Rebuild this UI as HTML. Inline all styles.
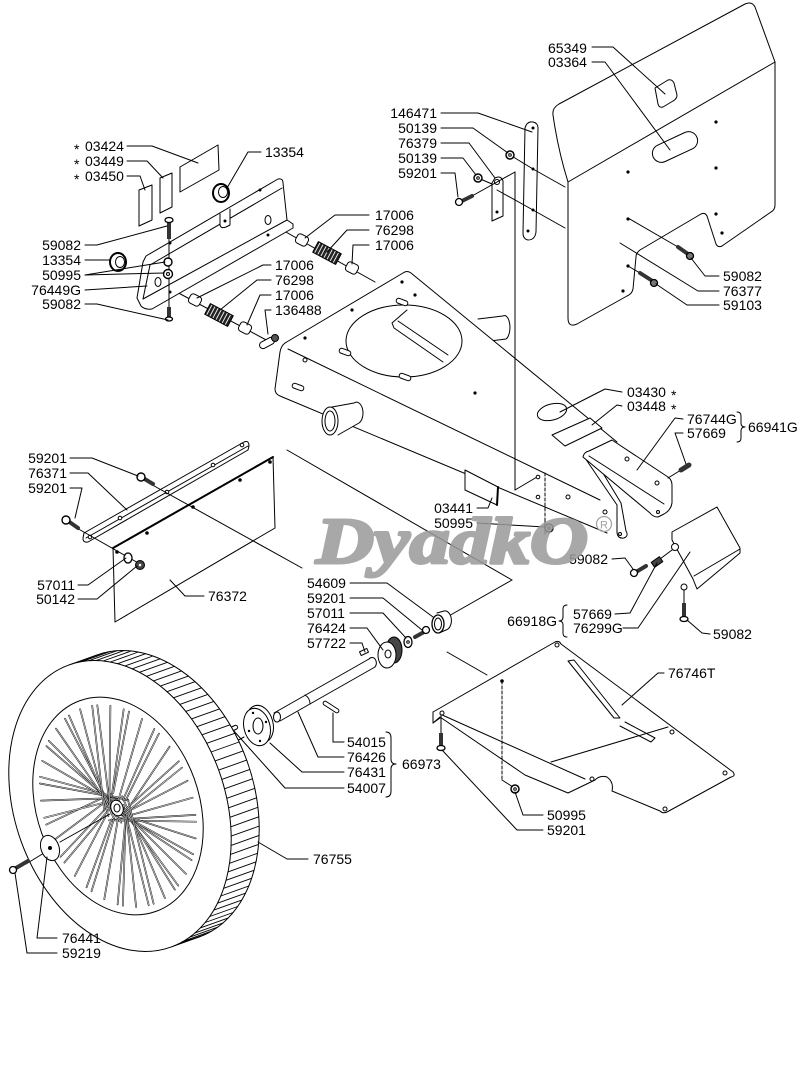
<!DOCTYPE html>
<html><head><meta charset="utf-8"><title>Parts diagram</title>
<style>
html,body{margin:0;padding:0;background:#fff;}
svg{display:block}
text.l{font-family:"Liberation Sans",Arial,sans-serif;font-size:14px;fill:#000;stroke:none}
</style></head><body>
<svg id="d" xmlns="http://www.w3.org/2000/svg" width="800" height="1070" viewBox="0 0 800 1070">
<defs>
<pattern id="coil" width="3.5" height="14" patternUnits="userSpaceOnUse"><rect width="3.5" height="14" fill="#fff"/><rect width="2.6" height="14" fill="#222"/></pattern>
</defs>
<rect width="800" height="1070" fill="#fff"/>
<g fill="none" stroke="#000" stroke-width="1" stroke-linejoin="round" stroke-linecap="round">

<!-- ===== TOP RIGHT PANEL 76377 ===== -->
<path d="M568,182 Q558,150 553,115 Q552,108 559,104 L745,4 Q752,1 755,7 L775,62 L775,205 Q775,210 771,212 L722,246 Q718,248 716,244 L707,216 Q705,212 701,214 L640,250 Q636,253 636,257 L633,289 Q632,294 627,296 L577,324 Q568,328 568,318 Z" fill="#fff"/>
<line x1="568" y1="182" x2="775" y2="62"/>
<g fill="#000" stroke="none">
<circle cx="716" cy="122" r="1.6"/><circle cx="716" cy="168" r="1.6"/><circle cx="628" cy="172" r="1.6"/><circle cx="628" cy="219" r="1.6"/><circle cx="716" cy="214" r="1.6"/><circle cx="722" cy="233" r="1.6"/><circle cx="628" cy="266" r="1.6"/><circle cx="623" cy="291" r="1.6"/>
</g>
<path d="M655,88 L668,80 Q672,79 674,83 L677,95 Q677,99 673,101 L663,107 Q659,108 658,104 Z" fill="#fff"/>
<rect x="-24" y="-9" width="48" height="18" rx="9" transform="translate(675,147) rotate(-25)" fill="#fff"/>
<line x1="628" y1="218" x2="678" y2="247"/>
<line x1="678" y1="247" x2="688" y2="254" stroke-width="4" stroke="#333"/>
<circle cx="690" cy="256" r="3.5" fill="#777" stroke-width="1.3"/>
<line x1="628" y1="266" x2="640" y2="273"/>
<line x1="640" y1="273" x2="651" y2="280" stroke-width="4" stroke="#333"/>
<circle cx="654" cy="283" r="3.5" fill="#777" stroke-width="1.3"/>

<!-- strip 146471 -->
<path d="M525,128 Q527,121 533,122 Q538,123 538,128 L536,232 Q535,240 528,240 Q523,239 523,233 Z" fill="#fff"/>
<g fill="#000" stroke="none"><circle cx="533" cy="128" r="1.5"/><circle cx="533" cy="169" r="1.5"/><circle cx="533" cy="210" r="1.5"/><circle cx="528" cy="231" r="1.5"/></g>
<line x1="533" y1="169" x2="565" y2="187"/>
<line x1="533" y1="210" x2="565" y2="228"/>
<line x1="510" y1="155" x2="533" y2="169"/>
<path d="M492,183 L492,221 L503,216 L503,181 Q501,175 495,178 Z" fill="#fff"/>
<circle cx="497" cy="182" r="2.5" fill="#fff"/>
<circle cx="497" cy="212" r="1.5" fill="#000" stroke="none"/>
<line x1="497" y1="190" x2="533" y2="210"/>
<line x1="478" y1="178" x2="492" y2="184"/>
<circle cx="510" cy="155" r="4" fill="#fff" stroke-width="1.5"/><circle cx="510" cy="155" r="1.3"/>
<circle cx="478" cy="178" r="4" fill="#fff" stroke-width="1.5"/><circle cx="478" cy="178" r="1.3"/>
<line x1="472" y1="196" x2="515" y2="172"/>
<line x1="462" y1="201" x2="472" y2="196" stroke-width="4" stroke="#333"/>
<circle cx="459" cy="202" r="3.5" fill="#fff" stroke-width="1.3"/>

<!-- ===== TOP LEFT GROUP ===== -->
<polygon points="180,167 218,145 219,170 180,192" fill="#fff"/>
<polygon points="160,178 172,173 172,207 160,213" fill="#fff"/>
<polygon points="139,190 152,185 152,220 139,226" fill="#fff"/>
<ellipse cx="221" cy="193" rx="8" ry="9" fill="#fff" stroke-width="2"/>
<ellipse cx="223" cy="192" rx="4.5" ry="5.5"/>
<line x1="268" y1="222" x2="375" y2="282"/>
<line x1="158" y1="282" x2="270" y2="342"/>
<path d="M143,262 L146,256 L278,179 Q283,178 283,183 L287,220 L293,224 L293,228 L152,309 Q145,310 141,306 L137,298 Z" fill="#fff"/>
<line x1="150" y1="265" x2="282" y2="188"/>
<line x1="143" y1="299" x2="287" y2="220"/>
<line x1="150" y1="265" x2="143" y2="299"/>
<path d="M220,214 L220,225 Q221,229 226,227 L230,225 L230,209" fill="#fff"/>
<g fill="#000" stroke="none"><circle cx="225" cy="221" r="1.5"/><circle cx="260" cy="190" r="1.5"/><circle cx="268" cy="235" r="1.5"/><circle cx="170" cy="243" r="1.5"/><circle cx="170" cy="292" r="1.5"/></g>
<ellipse cx="158" cy="282" rx="3" ry="4.5"/>
<ellipse cx="268" cy="220" rx="3" ry="4.5"/>
<line x1="169" y1="238" x2="169" y2="308"/>
<rect x="167" y="221" width="4" height="18" fill="#333" stroke="none"/>
<ellipse cx="169" cy="220" rx="4" ry="2.5" fill="#fff" stroke-width="1.3"/>
<circle cx="168" cy="262" r="4" fill="#fff" stroke-width="1.4"/>
<circle cx="168" cy="274" r="4.5" fill="#fff" stroke-width="1.4"/><circle cx="168" cy="274" r="1.5"/>
<rect x="167" y="307" width="4" height="11" fill="#333" stroke="none"/>
<ellipse cx="169" cy="319" rx="3.5" ry="2" fill="#fff" stroke-width="1.3"/>
<ellipse cx="118" cy="262" rx="8" ry="9" fill="#fff" stroke-width="2"/>
<ellipse cx="120" cy="262" rx="4.5" ry="5.5"/>
<rect x="-6" y="-5" width="12" height="10" rx="3" transform="translate(302,240) rotate(28)" fill="#fff"/>
<rect x="-13" y="-6" width="26" height="12" transform="translate(327,253) rotate(28)" fill="url(#coil)"/>
<rect x="-6" y="-5" width="12" height="10" rx="3" transform="translate(352,268) rotate(28)" fill="#fff"/>
<rect x="-6" y="-5" width="12" height="10" rx="3" transform="translate(195,300) rotate(28)" fill="#fff"/>
<rect x="-13" y="-6" width="26" height="12" transform="translate(219,315) rotate(28)" fill="url(#coil)"/>
<rect x="-6" y="-5" width="12" height="10" rx="3" transform="translate(245,328) rotate(28)" fill="#fff"/>
<rect x="-8" y="-3.5" width="16" height="7" rx="3.5" transform="translate(267,343) rotate(-28)" fill="#fff"/>
<circle cx="275" cy="338" r="3.5" fill="#555"/>

<!-- ===== FRAME ===== -->
<path d="M478,319 L503,316 A5,11 0 0 1 506,339 L490,341" fill="#fff"/>
<path d="M285,343 L403,273 Q407,270 411,273 L617,442 L600,500 L607,533 L280,396 Q275,394 275,389 L280,352 Q281,346 285,343 Z" fill="#fff" stroke="none"/>
<path d="M285,343 L403,273 Q407,270 411,273 L617,442"/>
<line x1="288" y1="349" x2="600" y2="500"/>
<path d="M285,343 Q281,346 280,352 L275,389 Q275,394 280,396 L607,533"/>
<path d="M585,458 L617,505 L617,533 Q618,539 624,538 Q629,536 626,531 L621,503 L592,455"/>
<circle cx="620" cy="534" r="1.5"/>
<ellipse cx="404" cy="341" rx="58" ry="36"/>
<path d="M407,310 L392,323 L394,328 L443,362"/>
<line x1="398" y1="321" x2="448" y2="355"/>
<g fill="#fff">
<rect x="-6" y="-2.5" width="12" height="5" rx="2.5" transform="translate(402,302) rotate(20)"/>
<rect x="-6" y="-2.5" width="12" height="5" rx="2.5" transform="translate(345,352) rotate(20)"/>
<rect x="-6" y="-2.5" width="12" height="5" rx="2.5" transform="translate(405,377) rotate(20)"/>
<rect x="-6" y="-2.5" width="12" height="5" rx="2.5" transform="translate(298,387) rotate(20)"/>
</g>
<g fill="#000" stroke="none"><circle cx="402" cy="282" r="1.6"/><circle cx="415" cy="295" r="1.6"/><circle cx="352" cy="310" r="1.6"/><circle cx="305" cy="338" r="1.6"/><circle cx="475" cy="393" r="1.6"/></g>
<circle cx="305" cy="360" r="2"/>
<path d="M332,407 L354,403 A6,10 0 0 1 359,423 L338,435" fill="#fff"/>
<ellipse cx="330" cy="421" rx="8" ry="14" fill="#fff"/>
<ellipse cx="330" cy="421" rx="5" ry="10"/>
<ellipse cx="552" cy="412" rx="15" ry="8" transform="rotate(-15 552 412)" fill="#fff"/>
<polygon points="552,435 590,418 602,428 565,446" fill="#fff"/>
<polygon points="465,470 498,487 497,505 465,490" fill="#fff"/>
<line x1="498" y1="487" x2="497" y2="505" stroke-width="2"/>
<path d="M583,457 Q584,452 589,451 L612,440 L668,477 Q672,480 672,485 L672,503 Q671,510 664,514 L658,517 Q653,517 650,513 Z" fill="#fff"/>
<line x1="589" y1="456" x2="664" y2="504"/>
<g fill="#fff"><circle cx="627" cy="459" r="2"/><circle cx="657" cy="483" r="2"/><circle cx="658" cy="512" r="1.5"/></g>
<line x1="668" y1="478" x2="681" y2="470"/>
<line x1="681" y1="470" x2="689" y2="465" stroke-width="5" stroke="#333"/>
<line x1="515" y1="172" x2="515" y2="490"/>
<line x1="515" y1="490" x2="537" y2="477"/>
<g fill="#fff"><circle cx="538" cy="477" r="1.8"/><circle cx="538" cy="497" r="1.8"/><circle cx="568" cy="497" r="2"/><circle cx="605" cy="512" r="2"/></g>
<line x1="545" y1="473" x2="545" y2="518" stroke-dasharray="3,2"/>
<line x1="545" y1="518" x2="545" y2="534"/>
<circle cx="549" cy="528" r="4" fill="#fff" stroke-width="1.5"/><circle cx="549" cy="528" r="1.3"/>

<!-- ===== LEFT LOWER GROUP ===== -->
<polygon points="113,548 273,457 275,528 115,622" fill="#fff"/>
<line x1="113" y1="548" x2="273" y2="457" stroke-width="2"/>
<g fill="#000" stroke="none"><circle cx="117" cy="552" r="1.8"/><circle cx="147" cy="533" r="1.8"/><circle cx="193" cy="507" r="1.8"/><circle cx="240" cy="480" r="1.8"/><circle cx="270" cy="462" r="1.8"/></g>
<path d="M84,533 L244,442 Q249,440 249,446 L248,450 L88,542 Q83,543 83,538 Z" fill="#fff"/>
<line x1="86" y1="538" x2="248" y2="446"/>
<g fill="#fff"><circle cx="90" cy="537" r="1.8"/><circle cx="120" cy="518" r="1.8"/><circle cx="167" cy="492" r="1.8"/><circle cx="213" cy="465" r="1.8"/><circle cx="242" cy="445" r="1.8"/></g>
<line x1="147" y1="482" x2="302" y2="568"/>
<line x1="75" y1="527" x2="140" y2="564"/>
<line x1="143" y1="478" x2="153" y2="484" stroke-width="4" stroke="#333"/>
<circle cx="141" cy="477" r="4" fill="#fff" stroke-width="1.4"/>
<line x1="68" y1="521" x2="78" y2="528" stroke-width="4" stroke="#333"/>
<circle cx="66" cy="520" r="4" fill="#fff" stroke-width="1.4"/>
<ellipse cx="128" cy="558" rx="4" ry="5" fill="#fff" stroke-width="1.3"/>
<circle cx="140" cy="565" r="4.5" fill="#444"/><circle cx="140" cy="565" r="1.3" fill="#fff" stroke="none"/>

<!-- ===== AXLE GROUP ===== -->
<line x1="287" y1="450" x2="512" y2="580"/>
<line x1="512" y1="580" x2="447" y2="617"/>
<line x1="447" y1="652" x2="487" y2="675"/>
<path d="M437,613 L444,611 A6,9 0 0 1 446,630 L439,633" fill="#fff"/>
<ellipse cx="438" cy="624" rx="6" ry="9" fill="#fff" stroke-width="1.3"/>
<ellipse cx="438" cy="624" rx="3.5" ry="6"/>
<line x1="415" y1="637" x2="424" y2="632" stroke-width="4" stroke="#333"/>
<circle cx="426" cy="630" r="3.5" fill="#fff" stroke-width="1.3"/>
<ellipse cx="408" cy="642" rx="4" ry="5.5" fill="#fff" stroke-width="1.3"/>
<circle cx="408" cy="642" r="1.3"/>
<ellipse cx="394" cy="650" rx="8" ry="13" fill="#444"/>
<ellipse cx="387" cy="655" rx="9" ry="13" fill="#fff"/>
<ellipse cx="388" cy="654" rx="3" ry="4"/>
<rect x="-4" y="-2" width="8" height="4" transform="translate(364,652) rotate(-25)" fill="#fff"/>
<path d="M274,713 L369,659 A4,5 0 0 1 375,667 L280,721" fill="#fff"/>
<ellipse cx="277" cy="717" rx="3.5" ry="5" fill="#fff"/>
<path d="M305,695 Q310,698 310,704"/>
<rect x="-9" y="-2" width="18" height="4" rx="2" transform="translate(331,707) rotate(33)" fill="#fff"/>
<ellipse cx="260" cy="724" rx="13" ry="19" transform="rotate(-15 260 724)" fill="#fff"/>
<ellipse cx="257" cy="727" rx="13" ry="19" transform="rotate(-15 257 727)" fill="#fff"/>
<ellipse cx="258" cy="726" rx="5" ry="8"/>
<g fill="#000" stroke="none"><circle cx="253" cy="713" r="1.2"/><circle cx="266" cy="722" r="1.2"/><circle cx="260" cy="741" r="1.2"/><circle cx="249" cy="731" r="1.2"/></g>
<line x1="222" y1="749" x2="244" y2="737"/>
<rect x="-6" y="-2" width="12" height="4" rx="2" transform="translate(232,729) rotate(-25)" fill="#fff"/>

<!-- ===== TRAY 76746T ===== -->
<path d="M433,712 L555,642 Q559,640 561,644 L733,772 Q736,776 731,777 L667,812 Q663,814 660,811 L612,791 Q614,782 607,777 Q600,775 595,780 L568,793 L525,775 L440,717 L433,723 Z" fill="#fff"/>
<line x1="440" y1="714" x2="585" y2="779"/>
<line x1="551" y1="762" x2="668" y2="727"/>
<path d="M568,661 L614,718 L620,718 L574,660 Z"/>
<path d="M620,726 L651,742 L655,738 L625,722"/>
<path d="M433,712 L433,723 L440,718"/>
<g fill="#fff"><circle cx="557" cy="645" r="2"/><circle cx="442" cy="713" r="2"/><circle cx="672" cy="732" r="2"/><circle cx="725" cy="773" r="2"/><circle cx="665" cy="809" r="2"/><circle cx="592" cy="779" r="2"/></g>
<circle cx="502" cy="681" r="1.3" fill="#000"/>
<line x1="502" y1="681" x2="502" y2="780" stroke-dasharray="3,2"/>
<line x1="502" y1="780" x2="513" y2="787"/>
<circle cx="515" cy="789" r="4" fill="#fff" stroke-width="1.5"/><circle cx="515" cy="789" r="1.3"/>
<line x1="441" y1="715" x2="441" y2="733"/>
<rect x="439" y="733" width="4" height="13" fill="#333" stroke="none"/>
<ellipse cx="441" cy="748" rx="4" ry="2.5" fill="#fff" stroke-width="1.3"/>

<!-- ===== COVER 76299G ===== -->
<path d="M672,532 L717,507 L740,548 L740,553 L697,589 L693,579 L672,540 Z" fill="#fff"/>
<line x1="694" y1="576" x2="740" y2="549"/>
<circle cx="675" cy="547" r="3.5" fill="#fff"/>
<circle cx="684" cy="587" r="3" fill="#fff"/>
<line x1="660" y1="559" x2="672" y2="550"/>
<rect x="-5" y="-3" width="10" height="6" transform="translate(657,562) rotate(-35)" fill="#444"/>
<line x1="636" y1="572" x2="646" y2="566" stroke-width="4" stroke="#333"/>
<circle cx="634" cy="573" r="3.5" fill="#fff" stroke-width="1.3"/>
<line x1="684" y1="590" x2="684" y2="603"/>
<rect x="682" y="603" width="4" height="14" fill="#333" stroke="none"/>
<ellipse cx="684" cy="619" rx="4" ry="2.5" fill="#fff" stroke-width="1.3"/>

<!-- ===== WHEEL ===== -->
<g id="wheel">
<ellipse cx="148" cy="796" rx="105" ry="150" transform="rotate(-20 148 796)" fill="#fff"/>
<g id="tread" stroke-width="0.9"></g>
<ellipse cx="120" cy="806" rx="105" ry="150" transform="rotate(-20 120 806)" fill="#fff"/>
<ellipse cx="118" cy="806" rx="81" ry="112" transform="rotate(-20 118 806)" fill="#fff"/>
<g id="spokes"></g>
<ellipse cx="117" cy="808" rx="6" ry="8" transform="rotate(-20 117 808)" fill="#fff"/>
<ellipse cx="117" cy="808" rx="3" ry="4"/>
</g>
<line x1="60" y1="842" x2="110" y2="814"/>
<line x1="26" y1="864" x2="44" y2="853"/>
<ellipse cx="50" cy="848" rx="9" ry="13" transform="rotate(-20 50 848)" fill="#fff"/>
<circle cx="50" cy="848" r="1.5" fill="#000"/>
<line x1="16" y1="868" x2="28" y2="861" stroke-width="4" stroke="#333"/>
<circle cx="13" cy="870" r="3.5" fill="#fff" stroke-width="1.3"/>

<!-- ===== LEADER LINES ===== -->
<polyline points="127,146 152,146 198,163"/>
<polyline points="127,161 147,161 163,178"/>
<polyline points="127,176 140,176 145,190"/>
<polyline points="261,152 248,152 227,188"/>
<polyline points="85,245 97,245 167,226"/>
<polyline points="85,260 110,260"/>
<polyline points="85,275 165,262"/>
<polyline points="85,275 164,273"/>
<polyline points="85,290 147,286"/>
<polyline points="85,304 97,304 168,320"/>
<polyline points="369,215 335,215 305,238"/>
<polyline points="369,230 347,230 327,252"/>
<polyline points="369,245 353,245 352,264"/>
<polyline points="271,265 263,265 197,298"/>
<polyline points="271,280 257,280 220,310"/>
<polyline points="271,295 260,295 247,325"/>
<polyline points="271,310 265,310 268,334"/>
<polyline points="592,47 613,47 665,94"/>
<polyline points="592,62 605,62 670,150"/>
<polyline points="441,113 478,113 532,132"/>
<polyline points="441,128 473,128 508,153"/>
<polyline points="441,143 469,143 495,178"/>
<polyline points="441,158 463,158 476,175"/>
<polyline points="441,173 455,173 458,197"/>
<polyline points="719,276 705,276 691,258"/>
<polyline points="719,291 698,291 620,243"/>
<polyline points="719,305 687,305 656,284"/>
<polyline points="622,392 605,389 560,412"/>
<polyline points="622,406 617,405 592,425"/>
<polyline points="683,419 675,418 637,470"/>
<polyline points="683,433 675,433 686,464"/>
<polyline points="477,508 488,508 492,498"/>
<polyline points="477,523 545,527"/>
<polyline points="70,458 92,458 138,476"/>
<polyline points="70,473 88,473 127,510"/>
<polyline points="70,488 82,488 75,518"/>
<polyline points="78,585 88,585 126,558"/>
<polyline points="78,599 97,599 137,566"/>
<polyline points="204,596 185,596 170,580"/>
<polyline points="350,583 387,583 433,617"/>
<polyline points="350,598 383,598 422,630"/>
<polyline points="350,613 383,613 406,638"/>
<polyline points="350,628 367,628 383,650"/>
<polyline points="350,643 362,643 365,652"/>
<polyline points="612,559 625,558 633,569"/>
<polyline points="615,614 630,613 657,563"/>
<polyline points="623,628 638,628 690,552"/>
<polyline points="710,634 702,633 687,620"/>
<polyline points="664,673 658,673 622,705"/>
<polyline points="344,742 333,742 333,713"/>
<polyline points="344,757 318,757 298,712"/>
<polyline points="344,772 302,772 270,743"/>
<polyline points="344,788 285,788 233,730"/>
<polyline points="543,815 523,815 515,792"/>
<polyline points="543,830 517,830 442,750"/>
<polyline points="308,859 287,859 258,842"/>
<polyline points="57,938 37,938 47,857"/>
<polyline points="57,953 27,953 15,873"/>

<path d="M386,732 Q391,732 391,738 L391,759 Q391,764 396,764 Q391,764 391,769 L391,791 Q391,797 386,797"/>
<path d="M737,412 Q741,412 741,416 L741,423 Q741,427 745,427 Q741,427 741,431 L741,438 Q741,442 737,442"/>
<path d="M567,605 Q563,605 563,609 L563,617 Q563,621 559,621 Q563,621 563,625 L563,633 Q563,637 567,637"/>
</g>

<!-- ===== LABELS ===== -->
<g>
<text class="l" x="74" y="154">*</text><text class="l" x="85" y="151">03424</text>
<text class="l" x="74" y="169">*</text><text class="l" x="85" y="166">03449</text>
<text class="l" x="74" y="184">*</text><text class="l" x="85" y="181">03450</text>
<text class="l" x="265" y="157">13354</text>
<text class="l" x="81" y="250" text-anchor="end">59082</text>
<text class="l" x="81" y="265" text-anchor="end">13354</text>
<text class="l" x="81" y="280" text-anchor="end">50995</text>
<text class="l" x="81" y="295" text-anchor="end">76449G</text>
<text class="l" x="81" y="309" text-anchor="end">59082</text>
<text class="l" x="375" y="220">17006</text>
<text class="l" x="375" y="235">76298</text>
<text class="l" x="375" y="250">17006</text>
<text class="l" x="275" y="270">17006</text>
<text class="l" x="275" y="285">76298</text>
<text class="l" x="275" y="300">17006</text>
<text class="l" x="275" y="315">136488</text>
<text class="l" x="548" y="53">65349</text>
<text class="l" x="548" y="67">03364</text>
<text class="l" x="437" y="118" text-anchor="end">146471</text>
<text class="l" x="437" y="133" text-anchor="end">50139</text>
<text class="l" x="437" y="148" text-anchor="end">76379</text>
<text class="l" x="437" y="163" text-anchor="end">50139</text>
<text class="l" x="437" y="178" text-anchor="end">59201</text>
<text class="l" x="723" y="281">59082</text>
<text class="l" x="723" y="296">76377</text>
<text class="l" x="723" y="310">59103</text>
<text class="l" x="627" y="397">03430</text><text class="l" x="671" y="400">*</text>
<text class="l" x="627" y="411">03448</text><text class="l" x="671" y="414">*</text>
<text class="l" x="687" y="424">76744G</text>
<text class="l" x="687" y="438">57669</text>
<text class="l" x="748" y="432">66941G</text>
<text class="l" x="473" y="513" text-anchor="end">03441</text>
<text class="l" x="473" y="528" text-anchor="end">50995</text>
<text class="l" x="67" y="463" text-anchor="end">59201</text>
<text class="l" x="67" y="478" text-anchor="end">76371</text>
<text class="l" x="67" y="493" text-anchor="end">59201</text>
<text class="l" x="75" y="590" text-anchor="end">57011</text>
<text class="l" x="75" y="604" text-anchor="end">50142</text>
<text class="l" x="208" y="601">76372</text>
<text class="l" x="307" y="588">54609</text>
<text class="l" x="307" y="603">59201</text>
<text class="l" x="307" y="618">57011</text>
<text class="l" x="307" y="633">76424</text>
<text class="l" x="307" y="648">57722</text>
<text class="l" x="608" y="564" text-anchor="end">59082</text>
<text class="l" x="557" y="626" text-anchor="end">66918G</text>
<text class="l" x="573" y="619">57669</text>
<text class="l" x="573" y="633">76299G</text>
<text class="l" x="713" y="639">59082</text>
<text class="l" x="668" y="678">76746T</text>
<text class="l" x="347" y="747">54015</text>
<text class="l" x="347" y="762">76426</text>
<text class="l" x="347" y="777">76431</text>
<text class="l" x="347" y="793">54007</text>
<text class="l" x="402" y="769">66973</text>
<text class="l" x="547" y="820">50995</text>
<text class="l" x="547" y="835">59201</text>
<text class="l" x="313" y="864">76755</text>
<text class="l" x="62" y="943">76441</text>
<text class="l" x="62" y="958">59219</text>
</g>

<!-- ===== WATERMARK ===== -->
<text x="316" y="563" font-family="'Liberation Serif', serif" font-weight="bold" font-style="italic" font-size="66" textLength="272" lengthAdjust="spacingAndGlyphs" fill="#9a9a9a" stroke="#9a9a9a" stroke-width="3" stroke-linejoin="round" opacity="0.85">DyadkO</text>
<circle cx="604" cy="524" r="7.5" fill="none" stroke="#a0a0a0" stroke-width="1.2"/>
<text x="604" y="528.5" text-anchor="middle" font-family="'Liberation Sans', sans-serif" font-size="11" fill="#a0a0a0">R</text>
</svg>
<script>
(function(){
var NS="http://www.w3.org/2000/svg";
function L(g,x1,y1,x2,y2,w,c){var e=document.createElementNS(NS,"line");e.setAttribute("x1",x1.toFixed(1));e.setAttribute("y1",y1.toFixed(1));e.setAttribute("x2",x2.toFixed(1));e.setAttribute("y2",y2.toFixed(1));e.setAttribute("stroke-width",w);e.setAttribute("stroke",c);g.appendChild(e);}
var th=-20*Math.PI/180,c=Math.cos(th),s=Math.sin(th);
function P(cx,cy,a,b,t){var x=a*Math.cos(t),y=b*Math.sin(t);return [cx+x*c-y*s,cy+x*s+y*c];}
var tg=document.getElementById("tread");
var N=96,i,t,p;
for(i=0;i<N;i++){t=2*Math.PI*i/N;p=P(120,806,105,150,t);L(tg,p[0],p[1],p[0]+28,p[1]-10,0.9,"#000");}
var sg=document.getElementById("spokes");
var M=46;
for(i=0;i<M;i++){
 t=2*Math.PI*(i+((i*7)%3)/4)/M;
 var e=P(118,806,74,104,t);
 var ha=t*3+1;
 var r=7+((i*5)%4)*2;
 var hx=117+r*Math.cos(ha),hy=808+r*1.2*Math.sin(ha);
 L(sg,hx,hy,e[0],e[1],1.7,"#222");
 L(sg,hx,hy,e[0],e[1],0.55,"#ffffff");
}
})();
</script>
</body></html>
